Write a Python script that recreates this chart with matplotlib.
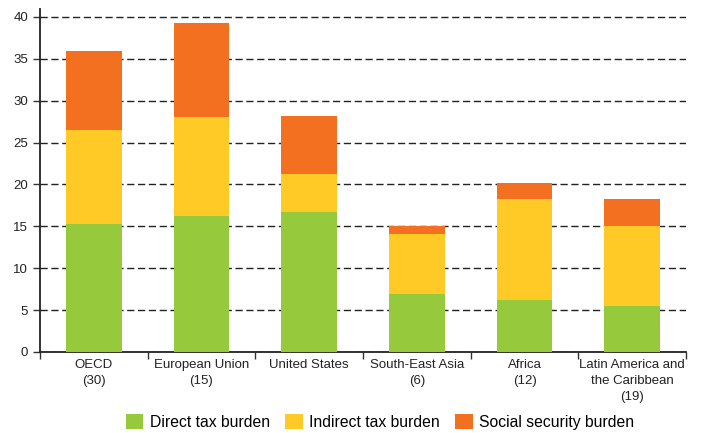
import matplotlib
matplotlib.use("Agg")
import matplotlib.pyplot as plt
import numpy as np

categories = ["OECD\n(30)", "European Union\n(15)", "United States", "South-East Asia\n(6)", "Africa\n(12)", "Latin America and\nthe Caribbean\n(19)"]
direct = [15.3, 16.2, 16.7, 6.9, 6.2, 5.5]
indirect = [11.2, 11.9, 4.6, 7.2, 12.1, 9.6]
social = [9.4, 11.2, 6.9, 0.9, 1.9, 3.2]
series_names = ["Direct tax burden", "Indirect tax burden", "Social security burden"]
colors = ["#97C93D", "#FFC926", "#F37021"]

plt.rcParams['font.family'] = ['Liberation Sans', 'DejaVu Sans']

fig = plt.figure(figsize=(7.01, 4.33), dpi=100)
ax = fig.add_axes([40/701, (433-352)/433, (686-40)/701, (352-8.6)/433])

x = np.arange(len(categories))
w = 0.515
d = np.array(direct); i = np.array(indirect); s = np.array(social)
ax.bar(x, d, w, color=colors[0], label=series_names[0], zorder=3)
ax.bar(x, i, w, bottom=d, color=colors[1], label=series_names[1], zorder=3)
ax.bar(x, s, w, bottom=d + i, color=colors[2], label=series_names[2], zorder=3)

ax.set_xlim(-0.5, len(categories) - 0.5)
ax.set_ylim(0, 41)
ax.set_yticks(np.arange(0, 41, 5))
ax.yaxis.grid(True, linestyle=(0, (5.2, 2.6)), color="#222222", linewidth=1.0, zorder=0)
ax.set_axisbelow(True)

ax.set_xticks(x)
ax.set_xticklabels(categories, fontsize=9.5, color="#222222", linespacing=1.45)
ax.tick_params(axis='x', which='major', length=0, pad=5)
ax.set_xticks(np.arange(-0.5, len(categories), 1), minor=True)
ax.tick_params(axis='x', which='minor', length=5, width=1, color="#333333")
ax.tick_params(axis='y', length=5, width=1, labelsize=9.5, labelcolor="#222222", color="#333333")

for sp in ["top", "right"]:
    ax.spines[sp].set_visible(False)
for sp in ["left", "bottom"]:
    ax.spines[sp].set_color("#222222")
    ax.spines[sp].set_linewidth(1.3)

fig.legend(loc="center", bbox_to_anchor=(380/701, 1 - 422/433), ncol=3, frameon=False,
           fontsize=11.3, handlelength=1.1, handleheight=1.1, columnspacing=1.0, handletextpad=0.4)

fig.savefig("out.png", dpi=100)
